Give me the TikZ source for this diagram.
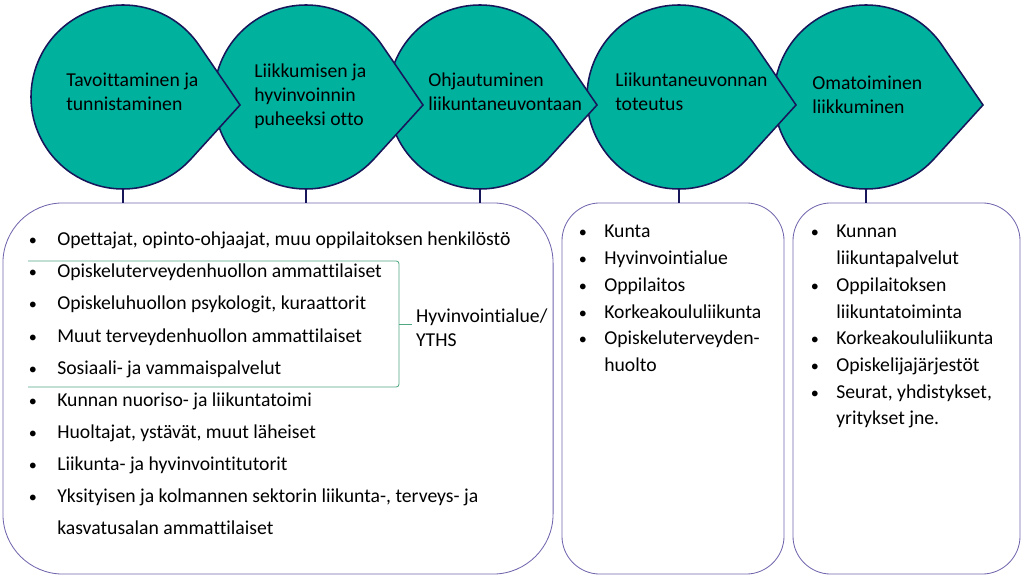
\documentclass[tikz,border=0pt]{standalone}
\usepackage{fontspec}
\setmainfont{Carlito}[Ligatures=NoCommon]
\usetikzlibrary{positioning,calc}
\definecolor{dropTeal}{HTML}{00B19D}
\definecolor{dropNavy}{HTML}{18165A}
\definecolor{boxLine}{HTML}{7166AD}
\definecolor{braceGreen}{HTML}{50A882}
\tikzset{
    dropShape/.style={fill=dropTeal, draw=dropNavy, line width=1.1pt},
    dropLabel/.style={font=\fontsize{14}{17}\selectfont, align=left, anchor=west, inner sep=0pt},
    stem/.style={draw=dropNavy, line width=1.6pt},
    listBox/.style={draw=boxLine, line width=0.6pt},
    bulletMark/.style={font=\fontsize{11.5}{13}\selectfont, anchor=base, inner sep=0pt},
    itemText/.style={font=\fontsize{14}{22.7}\selectfont, anchor=base west, inner sep=0pt, align=left},
    itemTight/.style={itemText, font=\fontsize{14}{19}\selectfont},
    braceLine/.style={draw=braceGreen, line width=0.6pt}
}
\begin{document}
\begin{tikzpicture}[x=0.025cm, y=0.025cm]
\useasboundingbox (0,0) rectangle (1024,-576);

% drops, right to left so each point lies over the next one
\foreach \cx/\nm in {866/e,679/d,480/c,306/b,123/a}{
    \coordinate (drop\nm) at (\cx,-97);
    \coordinate (foot\nm) at (\cx,-189);
    \draw[dropShape] ($(drop\nm)+(117,-8)$) -- ($(drop\nm)+(33.8:92)$)
        arc[start angle=33.8, end angle=318.3, radius=92] -- cycle;
}
\node[dropLabel] (labelA) at (66,-92) {Tavoittaminen ja\\tunnistaminen};
\node[dropLabel] (labelB) at (254,-96) {Liikkumisen ja\\hyvinvoinnin\\puheeksi otto};
\node[dropLabel] (labelC) at (428,-92) {Ohjautuminen\\liikuntaneuvontaan};
\node[dropLabel] (labelD) at (615,-92) {Liikuntaneuvonnan\\toteutus};
\node[dropLabel] (labelE) at (812,-95) {Omatoiminen\\liikkuminen};

% boxes
\node[listBox, minimum width=13.75cm, minimum height=9.275cm, rounded corners=1.5cm] (groupBox) at (278,-388.5) {};
\node[listBox, minimum width=5.55cm, minimum height=9.275cm, rounded corners=0.95cm] (placeBox) at (673,-388.5) {};
\node[listBox, minimum width=5.675cm, minimum height=9.275cm, rounded corners=0.95cm] (selfBox) at (906.5,-388.5) {};

\draw[stem] (foota) -- (foota |- groupBox.north);
\draw[stem] (footb) -- (footb |- groupBox.north);
\draw[stem] (footc) -- (footc |- groupBox.north);
\draw[stem] (footd) -- (footd |- placeBox.north);
\draw[stem] (foote) -- (foote |- selfBox.north);

% who
\foreach \txt/\more [count=\i from 0] in {
    {Opettajat, opinto-ohjaajat, muu oppilaitoksen henkilöstö}/0,
    {Opiskeluterveydenhuollon ammattilaiset}/0,
    {Opiskeluhuollon psykologit, kuraattorit}/0,
    {Muut terveydenhuollon ammattilaiset}/0,
    {Sosiaali- ja vammaispalvelut}/0,
    {Kunnan nuoriso- ja liikuntatoimi}/0,
    {Huoltajat, ystävät, muut läheiset}/0,
    {Liikunta- ja hyvinvointitutorit}/0,
    {Yksityisen ja kolmannen sektorin liikunta-, terveys- ja\\kasvatusalan ammattilaiset}/1}{
    \node[bulletMark] (groupDot\i) at (33,{-246-32*\i}) {•};
    \node[itemText] (groupItem\i) at (57,{-246-32*(\i+\more)}) {\txt};
}

% where
\foreach \dot/\ln/\txt in {0/0/Kunta, 1/1/Hyvinvointialue, 2/2/Oppilaitos, 3/3/Korkeakoululiikunta, 4/5/{Opiskeluterveyden-\\huolto}}{
    \node[bulletMark] (placeDot\dot) at (583,{-238-26.7*\dot}) {•};
    \node[itemTight] (placeItem\dot) at (604,{-238-26.7*\ln}) {\txt};
}

% own activity
\foreach \dot/\ln/\txt in {0/1/{Kunnan\\liikuntapalvelut}, 2/3/{Oppilaitoksen\\liikuntatoiminta}, 4/4/Korkeakoululiikunta, 5/5/Opiskelijajärjestöt, 6/7/{Seurat, yhdistykset,\\yritykset jne.}}{
    \node[bulletMark] (selfDot\dot) at (815,{-238-26.7*\dot}) {•};
    \node[itemTight] (selfItem\dot) at (836,{-238-26.7*\ln}) {\txt};
}

% bracket
\draw[braceLine, rounded corners=2pt] (28,-261) -| (399,-387) -- (28,-387);
\coordinate (braceMid) at (399,-324);
\node[itemTight, anchor=west, inner sep=2pt, font=\fontsize{14}{17}\selectfont] (wellbeingNote) at (413,-328) {Hyvinvointialue/\\YTHS};
\draw[braceLine] (braceMid) -- ([xshift=-1pt]wellbeingNote.west |- braceMid);
\end{tikzpicture}
\end{document}
